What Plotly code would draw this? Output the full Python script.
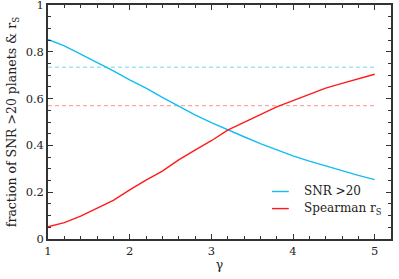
import plotly.graph_objects as go

gamma = [1.0, 1.2, 1.4, 1.6, 1.8, 2.0, 2.2, 2.4, 2.6, 2.8, 3.0, 3.2, 3.4, 3.6, 3.8, 4.0, 4.2, 4.4, 4.6, 4.8, 5.0]
snr_frac = [0.853, 0.825, 0.79, 0.755, 0.718, 0.68, 0.645, 0.605, 0.567, 0.53, 0.497,
            0.466, 0.437, 0.408, 0.38, 0.355, 0.333, 0.312, 0.292, 0.272, 0.254]
spearman = [0.052, 0.07, 0.098, 0.13, 0.165, 0.21, 0.252, 0.29, 0.338, 0.38, 0.42,
            0.465, 0.5, 0.532, 0.565, 0.592, 0.62, 0.645, 0.665, 0.685, 0.704]
snr_ref = 0.734
spearman_ref = 0.570
ref_x = [1, 5]
legend_labels = ["SNR >20", "Spearman r<sub>S</sub>"]

blue = "#12BDF2"
red = "#FF1A1A"
font = "'DejaVu Serif', serif"

fig = go.Figure()
fig.add_trace(go.Scatter(x=ref_x, y=[snr_ref, snr_ref], mode="lines",
                         line=dict(color="#A6E2F7", width=1.3, dash="4px,3px"),
                         showlegend=False))
fig.add_trace(go.Scatter(x=ref_x, y=[spearman_ref, spearman_ref], mode="lines",
                         line=dict(color="#FFA6A6", width=1.3, dash="4px,3px"),
                         showlegend=False))
fig.add_trace(go.Scatter(x=gamma, y=snr_frac, mode="lines", name=legend_labels[0],
                         line=dict(color=blue, width=1.4), showlegend=False))
fig.add_trace(go.Scatter(x=gamma, y=spearman, mode="lines", name=legend_labels[1],
                         line=dict(color=red, width=1.4), showlegend=False))

# manual legend (short line samples like the reference)
leg_y = [0.203, 0.130]
leg_colors = [blue, red]
for yy, col, lab in zip(leg_y, leg_colors, legend_labels):
    fig.add_shape(type="line", xref="paper", yref="paper", x0=0.653, x1=0.702, y0=yy, y1=yy,
                  line=dict(color=col, width=1.4))
    fig.add_annotation(xref="paper", yref="paper", x=0.741, y=yy, text=lab, showarrow=False,
                       xanchor="left", yanchor="middle",
                       font=dict(family=font, size=12, color="#222"))

axis_common = dict(showline=True, linecolor="#333", linewidth=1.5, mirror="ticks",
                   ticks="inside", ticklen=5, tickwidth=1.2, tickcolor="#333",
                   showgrid=False, zeroline=False, automargin=False,
                   ticklabeloverflow="allow",
                   tickfont=dict(family=font, size=11.5, color="#222"))

fig.update_layout(
    width=399, height=279,
    margin=dict(l=48, r=8, t=5, b=40),
    plot_bgcolor="white", paper_bgcolor="white",
    font=dict(family=font, size=11, color="#222"),
    xaxis=dict(range=[1, 5.2], dtick=1, tick0=1,
               minor=dict(dtick=0.2, ticklen=3, ticks="inside", tickcolor="#333"),
               title=dict(text="γ", font=dict(family=font, size=12.5), standoff=4),
               **axis_common),
    yaxis=dict(range=[0, 1], dtick=0.2,
               minor=dict(dtick=0.05, ticklen=3, ticks="inside", tickcolor="#333"),
               title=dict(text="fraction of SNR >20 planets & r<sub>S</sub>",
                          font=dict(family=font, size=12.5), standoff=6),
               **axis_common),
)

fig.write_html("out.html", config={"displayModeBar": False},
               post_script="document.body.style.margin='0';")
